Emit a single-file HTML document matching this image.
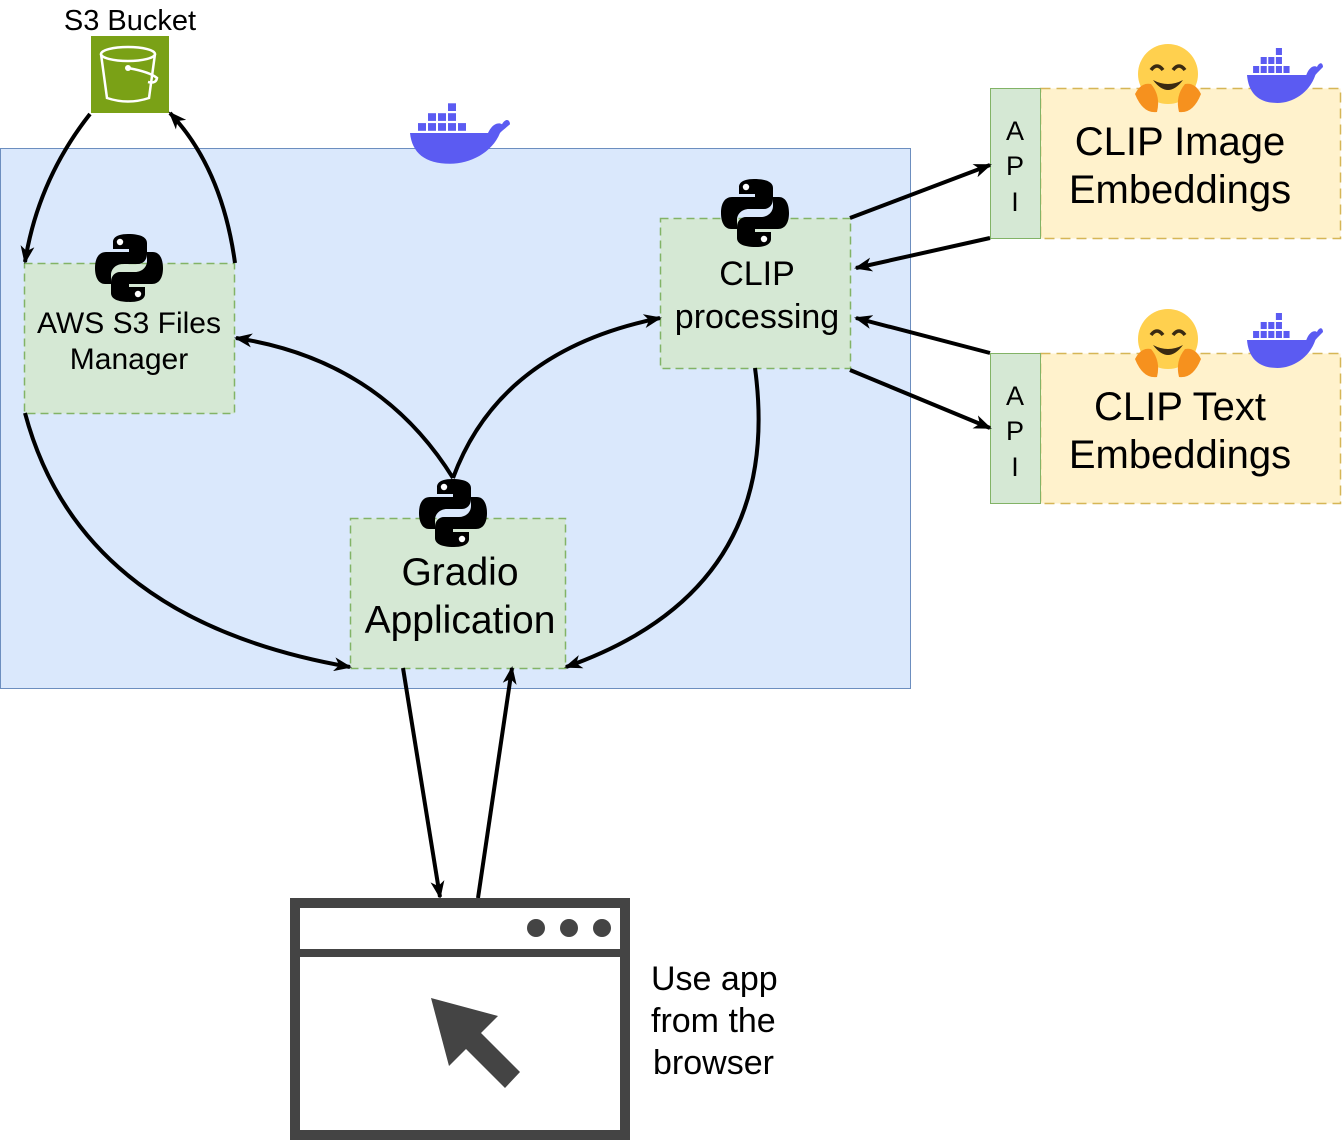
<!DOCTYPE html>
<html><head><meta charset="utf-8"><style>
html,body{margin:0;padding:0;background:#fff;}
svg{display:block;font-family:"Liberation Sans",Helvetica,Arial,sans-serif;}
</style></head><body>
<svg width="1342" height="1140" viewBox="0 0 1342 1140" xmlns="http://www.w3.org/2000/svg">
<defs>
<marker id="ah" markerWidth="18" markerHeight="14" refX="16" refY="7" orient="auto" markerUnits="userSpaceOnUse" viewBox="0 0 18 14">
<path d="M0,0 L18,7 L0,14 L5,7 Z" fill="#000"/>
</marker>
<g id="py">
<path d="M33 0 C19 0 18 6 18 8 L18 15 L34 15 L34 18 L11 18 C4 18 0 24 0 34 C0 44 4 50 10 50 L16 50 L16 41 C16 35 21 30 28 30 L43 30 C48 30 52 26 52 20 L52 9 C52 4 47 0 33 0 Z" fill="#000"/>
<circle cx="25" cy="8" r="3.2" fill="#fff"/>
<g transform="rotate(180 34 34)">
<path d="M33 0 C19 0 18 6 18 8 L18 15 L34 15 L34 18 L11 18 C4 18 0 24 0 34 C0 44 4 50 10 50 L16 50 L16 41 C16 35 21 30 28 30 L43 30 C48 30 52 26 52 20 L52 9 C52 4 47 0 33 0 Z" fill="#000"/>
<circle cx="25" cy="8" r="3.2" fill="#fff"/>
</g>
</g>
<g id="dk" fill="#5b5bf2">
<path d="M0,30 L78,30 C82,22 88,20 92,22 C96,16 100,18 100,22 C95,26 92,28 90,30 C82,48 60,58 40,58 C15,58 2,48 0,30 Z"/>
<rect x="8" y="21" width="8" height="7"/><rect x="18" y="21" width="8" height="7"/><rect x="28" y="21" width="8" height="7"/><rect x="38" y="21" width="8" height="7"/><rect x="48" y="21" width="8" height="7"/>
<rect x="18" y="12" width="8" height="7"/><rect x="28" y="12" width="8" height="7"/><rect x="38" y="12" width="8" height="7"/>
<rect x="38" y="3" width="8" height="7"/>
</g>
<g id="hug">
<circle cx="33" cy="30" r="30" fill="#ffd04e"/>
<path d="M16,26 Q22,18 28,26 M38,26 Q44,18 50,26" stroke="#3a2a12" stroke-width="3.5" fill="none"/>
<path d="M18,36 Q33,56 48,36 Q33,44 18,36 Z" fill="#3a2a12"/>
<path d="M0,50 Q6,38 16,40 Q26,52 22,68 Q8,70 0,50 Z" fill="#f6911e"/>
<path d="M66,50 Q60,38 50,40 Q40,52 44,68 Q58,70 66,50 Z" fill="#f6911e"/>
</g>
</defs>

<rect x="0.5" y="148.5" width="910" height="540" fill="#dae8fc" stroke="#6c8ebf" stroke-width="1"/>
<use href="#dk" transform="translate(410,100) scale(1,1.1)"/>

<text x="130" y="30" font-size="29" text-anchor="middle">S3 Bucket</text>
<rect x="91" y="36" width="78" height="77" fill="#7aa116"/>
<g stroke="#fff" stroke-width="2.5" fill="none">
<ellipse cx="128" cy="54" rx="27" ry="7"/>
<path d="M101,54 L107,98 Q128,105 149,98 L155,54"/>
<path d="M128,68 Q150,72 157,78 Q156,84 148,82"/>
</g>
<circle cx="128" cy="68" r="3" fill="#fff"/>

<rect x="24.5" y="263.5" width="210" height="150" fill="#d5e8d4" stroke="#82b366" stroke-width="1.5" stroke-dasharray="8 5"/>
<use href="#py" x="95" y="234"/>
<text x="129" y="333" font-size="30" text-anchor="middle">AWS S3 Files</text>
<text x="129" y="369" font-size="30" text-anchor="middle">Manager</text>

<rect x="660.5" y="218.5" width="190" height="150" fill="#d5e8d4" stroke="#82b366" stroke-width="1.5" stroke-dasharray="8 5"/>
<use href="#py" x="721" y="179"/>
<text x="757" y="285" font-size="34" text-anchor="middle">CLIP</text>
<text x="757" y="328" font-size="34" text-anchor="middle">processing</text>

<rect x="350.5" y="518.5" width="215" height="150" fill="#d5e8d4" stroke="#82b366" stroke-width="1.5" stroke-dasharray="8 5"/>
<use href="#py" x="419" y="479"/>
<text x="460" y="585" font-size="39" text-anchor="middle">Gradio</text>
<text x="460" y="633" font-size="39" text-anchor="middle">Application</text>

<rect x="1040.5" y="88.5" width="300" height="150" fill="#fff2cc" stroke="#d6b656" stroke-width="1.5" stroke-dasharray="10 6"/>
<rect x="990.5" y="88.5" width="50" height="150" fill="#d5e8d4" stroke="#82b366" stroke-width="1"/>
<text x="1015" y="140" font-size="27" text-anchor="middle">A</text>
<text x="1015" y="175" font-size="27" text-anchor="middle">P</text>
<text x="1015" y="211" font-size="27" text-anchor="middle">I</text>
<text x="1180" y="155" font-size="40" text-anchor="middle">CLIP Image</text>
<text x="1180" y="203" font-size="40" text-anchor="middle">Embeddings</text>
<use href="#hug" x="1135" y="44"/>
<use href="#dk" transform="translate(1247,45) scale(0.76,1)"/>

<rect x="1040.5" y="353.5" width="300" height="150" fill="#fff2cc" stroke="#d6b656" stroke-width="1.5" stroke-dasharray="10 6"/>
<rect x="990.5" y="353.5" width="50" height="150" fill="#d5e8d4" stroke="#82b366" stroke-width="1"/>
<text x="1015" y="405" font-size="27" text-anchor="middle">A</text>
<text x="1015" y="440" font-size="27" text-anchor="middle">P</text>
<text x="1015" y="476" font-size="27" text-anchor="middle">I</text>
<text x="1180" y="420" font-size="40" text-anchor="middle">CLIP Text</text>
<text x="1180" y="468" font-size="40" text-anchor="middle">Embeddings</text>
<use href="#hug" x="1135" y="309"/>
<use href="#dk" transform="translate(1247,310) scale(0.76,1)"/>

<g stroke="#000" stroke-width="4" fill="none" marker-end="url(#ah)">
<path d="M90,114 Q38,180 25,262"/>
<path d="M235,263 Q222,168 170,113"/>
<path d="M25,413 Q80,620 350,667"/>
<path d="M453,478 Q380,360 236,338"/>
<path d="M453,478 Q500,350 660,318"/>
<path d="M755,368 Q785,590 566,667"/>
<path d="M850,218 L990,165"/>
<path d="M990,238 L856,268"/>
<path d="M990,353 L856,318"/>
<path d="M850,370 L990,428"/>
<path d="M403,668 L440,897"/>
<path d="M478,898 L512,668"/>
</g>

<rect x="295" y="903" width="330" height="232" fill="#fff" stroke="#444" stroke-width="10"/>
<line x1="295" y1="953" x2="625" y2="953" stroke="#444" stroke-width="8"/>
<circle cx="536" cy="928" r="9" fill="#444"/>
<circle cx="569" cy="928" r="9" fill="#444"/>
<circle cx="602" cy="928" r="9" fill="#444"/>
<polygon points="431,998 498,1016 481,1033 520,1072 505,1088 466,1049 449,1066" fill="#444"/>
<text x="651" y="990" font-size="34">Use app</text>
<text x="651" y="1032" font-size="34">from the</text>
<text x="653" y="1074" font-size="34">browser</text>
</svg>
</body></html>
